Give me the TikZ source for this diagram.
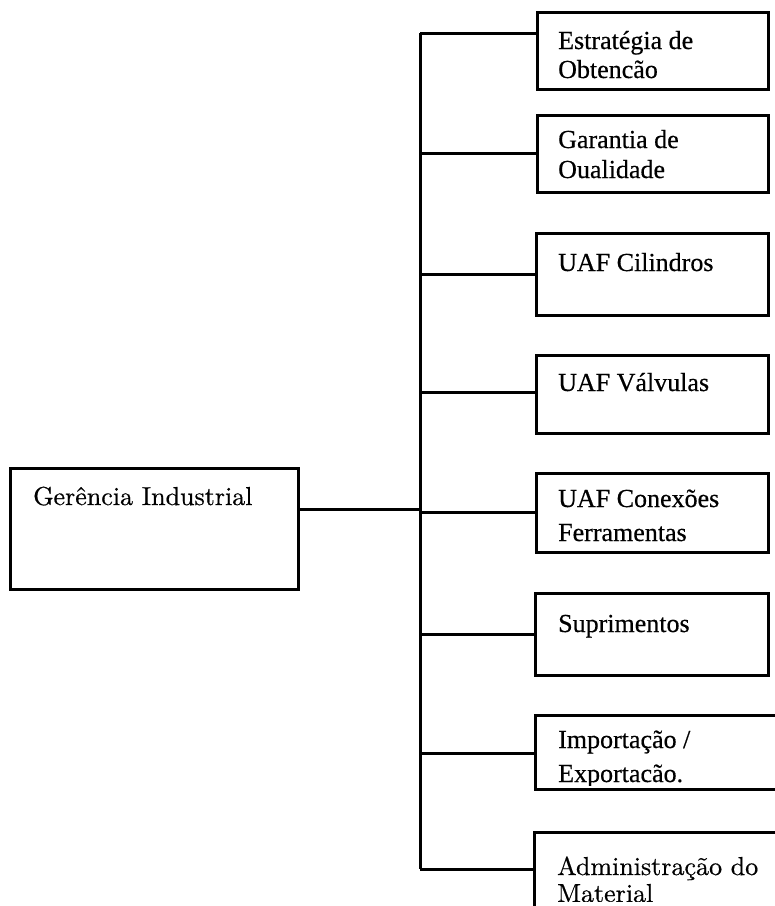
\documentclass[tikz,border=0pt]{standalone}
\usepackage{fontspec}
\newfontfamily\tms[FakeBold=0.5]{Liberation Serif}
\newfontfamily\lmr[FakeBold=0.5]{lmroman10-regular.otf}
\begin{document}
\begin{tikzpicture}[x=1pt,y=-1pt,
  box/.style={draw, line width=3pt, rectangle, inner sep=0pt, outer sep=0pt, anchor=north west},
  wire/.style={line width=3pt},
  tlbl/.style={font=\tms\fontsize{26}{30}\selectfont, inner sep=0pt, anchor=base west},
  rlbl/.style={font=\lmr\fontsize{26}{30}\selectfont, inner sep=0pt, anchor=base west}]
\useasboundingbox (0,0) rectangle (775,906);
\clip (0,0) rectangle (775,906);

% head of the department
\node[box, minimum width=288pt, minimum height=121pt] (m) at (10,468) {};
\node[rlbl] (tm) at (33,505) {Gerência Industrial};

% subordinate units
\node[box, minimum width=231pt, minimum height=77pt] (b1) at (537,12) {};
\node[box, minimum width=231pt, minimum height=77pt] (b2) at (537,115) {};
\node[box, minimum width=232pt, minimum height=82pt] (b3) at (536,233) {};
\node[box, minimum width=232pt, minimum height=78pt] (b4) at (536,355) {};
\node[box, minimum width=232pt, minimum height=79pt] (b5) at (536,473) {};
\node[box, minimum width=233pt, minimum height=82pt] (b6) at (535,593) {};
\node[box, minimum width=260pt, minimum height=74pt] (b7) at (535,715) {};
\node[box, minimum width=260pt, minimum height=100pt] (b8) at (534,832) {};

\node[tlbl] (t1a) at (558,49) {Estratégia de};
\node[tlbl] (t1b) at (558,78) {Obtencão};
\node[tlbl] (t2a) at (558,148) {Garantia de};
\node[tlbl] (t2b) at (558,178) {Oualidade};
\node[tlbl] (t3) at (558,271) {UAF Cilindros};
\node[tlbl] (t4) at (558,391) {UAF Válvulas};
\node[tlbl] (t5a) at (558,507) {UAF Conexões};
\node[tlbl] (t5b) at (558,541) {Ferramentas};
\node[tlbl] (t6) at (558,632) {Suprimentos};
\node[tlbl] (t7a) at (558,748) {Importação /};
\begin{scope}
  \clip (536,716) rectangle (775,785);
  \node[tlbl] (t7b) at (558,782) {Exportacão.};
\end{scope}
\node[rlbl] (t8a) at (557,875) {Administração do};
\begin{scope}
  \clip (536,880) rectangle (775,901);
  \node[rlbl] (t8b) at (557,902) {Material};
\end{scope}

% vertical bus and its branches
\coordinate (j1) at (420,33);
\coordinate (j2) at (420,153);
\coordinate (j3) at (420,274);
\coordinate (j4) at (420,392);
\coordinate (j5) at (420,512);
\coordinate (j6) at (420,634);
\coordinate (j7) at (420,753);
\coordinate (j8) at (420,869);
\coordinate (jm) at (420,509);

\draw[wire] (j1) -- (j8);
\foreach \k in {1,...,8}
  \draw[wire] (j\k) -- (j\k -| b\k.west);
\draw[wire] (jm -| m.east) -- (jm);
\end{tikzpicture}
\end{document}
